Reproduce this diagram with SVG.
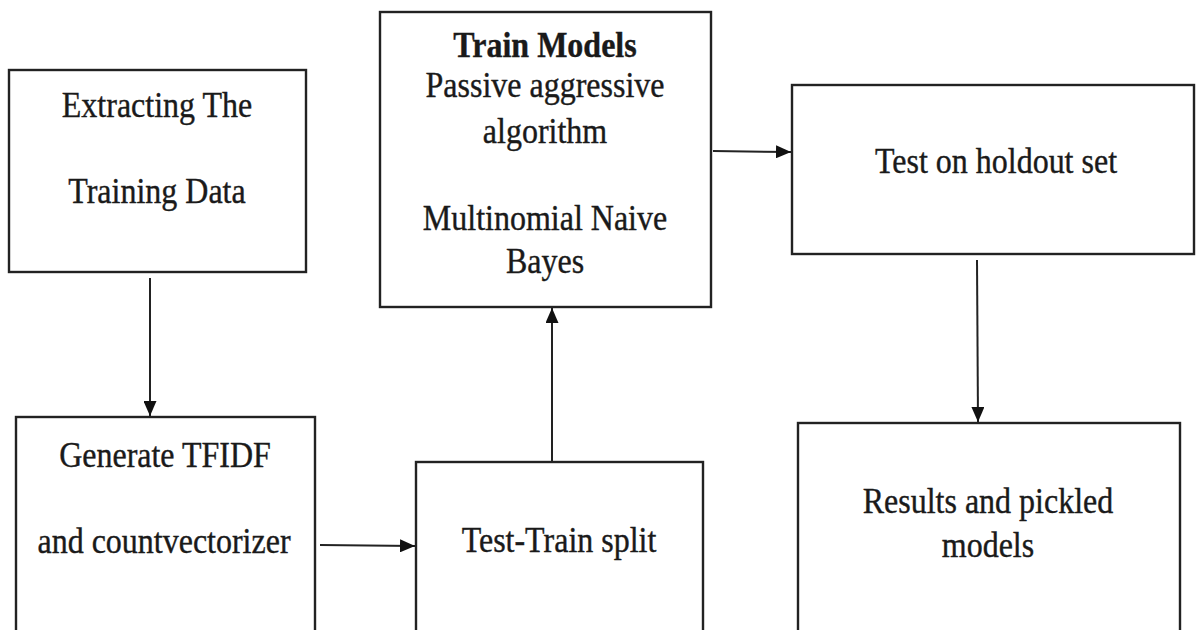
<svg xmlns="http://www.w3.org/2000/svg" width="1197" height="630" viewBox="0 0 1197 630">
<style>
.box{fill:#fff;stroke:#222;stroke-width:2.4}
.t{font-family:"Liberation Serif","Times New Roman",serif;font-size:32px;fill:#1a1a1a;stroke:#1a1a1a;stroke-width:0.35;text-anchor:middle}
.b{font-weight:bold}
.c{stroke:#222;stroke-width:2;fill:none}
</style>
<defs>
<marker id="ah" markerWidth="15" markerHeight="13" refX="15" refY="6.5" orient="auto" markerUnits="userSpaceOnUse">
<path d="M0,0 L15,6.5 L0,13 Z" fill="#111"/>
</marker>
</defs>
<rect width="1197" height="630" fill="#fff"/>
<g id="n1">
<rect class="box" x="9" y="70" width="297" height="202"/>
<text class="t" transform="translate(157 117) scale(1 1.15)">Extracting The</text>
<text class="t" transform="translate(157 203) scale(1 1.15)">Training Data</text>
</g>
<g id="n2">
<rect class="box" x="380" y="12" width="331" height="295"/>
<text class="t b" transform="translate(545 57) scale(1 1.15)">Train Models</text>
<text class="t" transform="translate(545 97) scale(1 1.15)">Passive aggressive</text>
<text class="t" transform="translate(545 143) scale(1 1.15)">algorithm</text>
<text class="t" transform="translate(545 230) scale(1 1.15)">Multinomial Naive</text>
<text class="t" transform="translate(545 273) scale(1 1.15)">Bayes</text>
</g>
<g id="n3">
<rect class="box" x="792" y="85" width="402" height="169"/>
<text class="t" transform="translate(996 173) scale(1 1.15)">Test on holdout set</text>
</g>
<g id="n4">
<rect class="box" x="16" y="417" width="299" height="230"/>
<text class="t" transform="translate(165 467) scale(1 1.15)">Generate TFIDF</text>
<text class="t" transform="translate(164 553) scale(1 1.15)">and countvectorizer</text>
</g>
<g id="n5">
<rect class="box" x="416" y="462" width="287" height="190"/>
<text class="t" transform="translate(559 552) scale(1 1.15)">Test-Train split</text>
</g>
<g id="n6">
<rect class="box" x="798" y="423" width="382" height="230"/>
<text class="t" transform="translate(988 513) scale(1 1.15)">Results and pickled</text>
<text class="t" transform="translate(988 557) scale(1 1.15)">models</text>
</g>
<g id="connectors">
<line class="c" x1="150" y1="278" x2="150" y2="416" marker-end="url(#ah)"/>
<line class="c" x1="320" y1="545" x2="415" y2="546" marker-end="url(#ah)"/>
<line class="c" x1="552" y1="462" x2="552" y2="308" marker-end="url(#ah)"/>
<line class="c" x1="713" y1="151" x2="791" y2="152" marker-end="url(#ah)"/>
<line class="c" x1="977" y1="260" x2="978" y2="422" marker-end="url(#ah)"/>
</g>
</svg>
